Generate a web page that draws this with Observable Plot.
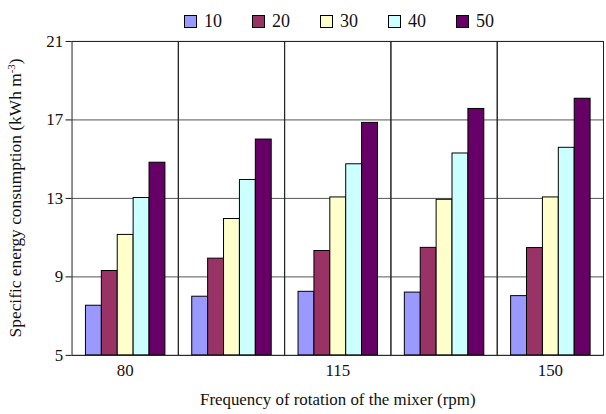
<!DOCTYPE html>
<html>
<head>
<meta charset="utf-8">
<script src="https://cdn.jsdelivr.net/npm/d3@7"></script>
<script src="https://cdn.jsdelivr.net/npm/@observablehq/plot@0.6"></script>
<style>
  html, body { margin: 0; padding: 0; background: #fff; overflow: hidden; }
  #legend {
    height: 28px; width: 534px; padding-left: 72px; padding-top: 7px;
    display: flex; justify-content: center; align-items: center;
    font-family: "Liberation Serif", "Times New Roman", Times, serif; font-size: 18px; color: #111;
  }
  #legend .item { display: flex; align-items: center; margin: 0 15px; }
  #legend .sw { width: 13px; height: 13px; border: 1px solid #000; margin-right: 7px; box-sizing: border-box; }
</style>
</head>
<body>
<div id="legend"></div>
<div id="chart"></div>
<script>
// Mixer speed groups (rpm); only some are labelled on the axis
const rpm = [80, 97.5, 115, 132.5, 150];
const labelledRpm = [80, 115, 150];

// Series names (legend) and their fills
const seriesNames = ["10", "20", "30", "40", "50"];
const seriesColors = ["#9999ff", "#993366", "#ffffcc", "#ccffff", "#660066"];

// Specific energy consumption (kWh m-3) per series, one value per rpm group
const s10 = [7.53, 7.99, 8.24, 8.20, 8.02];
const s20 = [9.30, 9.93, 10.32, 10.48, 10.47];
const s30 = [11.14, 11.95, 13.05, 12.93, 13.05];
const s40 = [13.02, 13.94, 14.74, 15.29, 15.58];
const s50 = [14.82, 16.00, 16.85, 17.56, 18.08];

// y axis
const yMin = 5;
const yMax = 21;
const yTicks = [5, 9, 13, 17, 21];

const serif = "'Liberation Serif', 'Times New Roman', Times, serif";

const seriesValues = [s10, s20, s30, s40, s50];
const data = [];
rpm.forEach((r, i) => {
  seriesNames.forEach((s, j) => {
    data.push({rpm: r, series: s, value: seriesValues[j][i]});
  });
});

// Legend
const legend = d3.select("#legend");
seriesNames.forEach((s, j) => {
  const item = legend.append("div").attr("class", "item");
  item.append("div").attr("class", "sw").style("background", seriesColors[j]);
  item.append("span").text(s);
});

const chart = Plot.plot({
  width: 610,
  height: 379,
  marginTop: 6,
  marginLeft: 70,
  marginRight: 1,
  marginBottom: 57,
  style: {fontFamily: serif, fontSize: "17px", color: "#111", background: "white", overflow: "visible"},
  fx: {
    domain: rpm,
    padding: 0,
    label: "Frequency of rotation of the mixer (rpm)",
    labelAnchor: "center",
    labelOffset: 50,
    tickSize: 0,
    tickPadding: 9,
    tickFormat: d => labelledRpm.includes(d) ? String(d) : ""
  },
  x: {domain: seriesNames, axis: null, paddingInner: 0, paddingOuter: 0.745},
  y: {domain: [yMin, yMax], ticks: yTicks, label: null, tickSize: 6, tickPadding: 3},
  color: {domain: seriesNames, range: seriesColors},
  marks: [
    Plot.gridY(yTicks, {stroke: "#555", strokeOpacity: 1, strokeWidth: 1}),
    Plot.barY(data, {
      fx: "rpm", x: "series", y1: () => yMin, y2: "value",
      fill: "series", stroke: "#000", strokeWidth: 1
    }),
    Plot.frame({stroke: "#222", strokeWidth: 1})
  ]
});

// Rotated y-axis title with a superscript unit
const svg = d3.select(chart);
const t = svg.append("text")
  .attr("transform", "translate(21,164) rotate(-90)")
  .attr("text-anchor", "middle")
  .style("font-family", serif)
  .attr("font-size", 17.5)
  .attr("fill", "#111");
t.append("tspan").text("Specific energy consumption (kWh m");
t.append("tspan").attr("baseline-shift", "super").attr("font-size", 11).text("-3");
t.append("tspan").text(")");

document.getElementById("chart").appendChild(chart);
</script>
</body>
</html>
